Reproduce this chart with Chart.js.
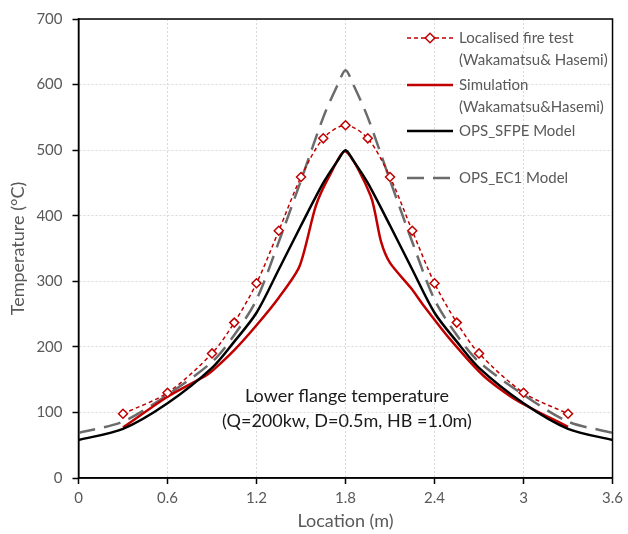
<!DOCTYPE html>
<html>
<head>
<meta charset="utf-8">
<script src="https://cdn.jsdelivr.net/npm/chart.js@4"></script>
<style>
  body { margin: 0; background: #fff; }
  #wrap { width: 628px; height: 534px; }
</style>
</head>
<body>
<div id="wrap"><canvas id="tempChart" width="628" height="534"></canvas></div>
<script>
// Localised fire test (Wakamatsu & Hasemi)
const xTest = [0.3, 0.6, 0.9, 1.05, 1.2, 1.35, 1.5, 1.65, 1.8, 1.95, 2.1, 2.25, 2.4, 2.55, 2.7, 3.0, 3.3];
const yTest = [98, 130, 190, 237, 297, 377, 459, 518, 538, 518, 459, 377, 297, 237, 190, 130, 98];

// Simulation (Wakamatsu & Hasemi)
const xSim = [0.3, 0.6, 0.85, 0.9, 1.05, 1.2, 1.35, 1.49, 1.6, 1.69, 1.8, 1.97, 2.04, 2.1, 2.24, 2.33, 2.5, 2.73, 2.95, 3.3];
const ySim = [77, 124, 155, 163, 195, 233, 275, 323, 415, 460, 498, 430, 360, 328, 290, 262, 213, 156, 119, 78];

// OPS models
const xModel = [0, 0.3, 0.6, 0.9, 1.05, 1.2, 1.35, 1.5, 1.65, 1.75, 1.8, 1.85, 1.95, 2.1, 2.25, 2.4, 2.55, 2.7, 3.0, 3.3, 3.6];
const ySFPE = [58, 75, 114, 168, 208, 252, 318, 385, 450, 485, 500, 485, 450, 385, 318, 252, 208, 168, 114, 75, 58];
const yEC1 = [69, 86, 127, 177, 218, 272, 360, 454, 550, 601, 622, 601, 550, 454, 360, 272, 218, 177, 127, 86, 69];

// axis ticks
const xTickValues = [0, 0.6, 1.2, 1.8, 2.4, 3, 3.6];
const yTickValues = [0, 100, 200, 300, 400, 500, 600, 700];

const legendLabels = [
  ['Localised fire test', '(Wakamatsu& Hasemi)'],
  ['Simulation', '(Wakamatsu&Hasemi)'],
  ['OPS_SFPE Model'],
  ['OPS_EC1 Model']
];
const noteLines = ['Lower flange temperature', '(Q=200kw, D=0.5m, HB =1.0m)'];

const RED = '#C00000';
const GREY = '#6b6b6b';
const TEXT = '#595959';
const FONT = 'Lato, "Open Sans", sans-serif';

function toPoints(xs, ys) {
  return xs.map((x, i) => ({ x: x, y: ys[i] }));
}

// legend + note + plot frame
const extrasPlugin = {
  id: 'extras',
  afterDraw(chart) {
    const ctx = chart.ctx;
    const area = chart.chartArea;
    ctx.save();

    // frame round the plot
    ctx.strokeStyle = '#000';
    ctx.lineWidth = 1.5;
    ctx.strokeRect(area.left, area.top, area.right - area.left, area.bottom - area.top);

    // legend
    const rows = [38, 85, 131, 178];
    const x0 = 407, x1 = 453, tx = 459;
    ctx.font = '15px ' + FONT;
    ctx.textBaseline = 'middle';
    ctx.textAlign = 'left';
    chart.data.datasets.forEach((ds, i) => {
      const y = rows[i];
      ctx.save();
      ctx.strokeStyle = ds.borderColor;
      ctx.lineWidth = ds.borderWidth;
      ctx.setLineDash(ds.borderDash || []);
      ctx.beginPath();
      ctx.moveTo(x0, y);
      ctx.lineTo(x1, y);
      ctx.stroke();
      ctx.restore();
      if (ds.pointRadius > 0) {
        ctx.save();
        ctx.translate((x0 + x1) / 2, y);
        ctx.rotate(Math.PI / 4);
        ctx.fillStyle = '#fff';
        ctx.strokeStyle = ds.pointBorderColor;
        ctx.lineWidth = ds.pointBorderWidth;
        const s = ds.pointRadius * 0.75;
        ctx.fillRect(-s, -s, 2 * s, 2 * s);
        ctx.strokeRect(-s, -s, 2 * s, 2 * s);
        ctx.restore();
      }
      ctx.fillStyle = TEXT;
      legendLabels[i].forEach((line, j) => {
        ctx.fillText(line, tx, y + j * 22);
      });
    });

    // note in the plot
    ctx.font = '18px ' + FONT;
    ctx.textAlign = 'center';
    ctx.fillStyle = '#1a1a1a';
    ctx.fillText(noteLines[0], 347, 396);
    ctx.fillText(noteLines[1], 347, 421);
    ctx.restore();
  }
};

const ctx = document.getElementById('tempChart');

new Chart(ctx, {
  type: 'scatter',
  data: {
    datasets: [
      {
        label: 'Localised fire test (Wakamatsu& Hasemi)',
        data: toPoints(xTest, yTest),
        showLine: true,
        borderColor: RED,
        borderWidth: 1.5,
        borderDash: [4, 3],
        tension: 0.3,
        pointStyle: 'rectRot',
        pointRadius: 4.5,
        pointBorderColor: RED,
        pointBackgroundColor: '#fff',
        pointBorderWidth: 1.5,
        order: 0
      },
      {
        label: 'Simulation (Wakamatsu&Hasemi)',
        data: toPoints(xSim, ySim),
        showLine: true,
        borderColor: RED,
        borderWidth: 2.5,
        tension: 0.25,
        pointRadius: 0,
        order: 2
      },
      {
        label: 'OPS_SFPE Model',
        data: toPoints(xModel, ySFPE),
        showLine: true,
        borderColor: '#000',
        borderWidth: 2.5,
        tension: 0.3,
        pointRadius: 0,
        order: 1
      },
      {
        label: 'OPS_EC1 Model',
        data: toPoints(xModel, yEC1),
        showLine: true,
        borderColor: GREY,
        borderWidth: 2.5,
        borderDash: [17, 9],
        tension: 0.3,
        pointRadius: 0,
        order: 3
      }
    ]
  },
  options: {
    responsive: false,
    animation: false,
    layout: { padding: { top: 10, right: 11, left: 0, bottom: 0 } },
    plugins: {
      legend: { display: false },
      tooltip: { enabled: false }
    },
    scales: {
      x: {
        type: 'linear',
        min: 0,
        max: 3.6,
        afterBuildTicks: function(scale) {
          scale.ticks = xTickValues.map(v => ({ value: v }));
        },
        afterFit: function(scale) {
          scale.height = 56;
        },
        grid: {
          color: '#d9d9d9',
          lineWidth: 1,
          tickLength: 6,
          tickColor: '#000',
          tickWidth: 1.5
        },
        border: { color: '#000', width: 1.5, dash: [2, 2] },
        ticks: {
          color: TEXT,
          padding: 5,
          font: { family: FONT, size: 15 },
          callback: function(v) { return String(Math.round(v * 10) / 10); }
        },
        title: {
          display: true,
          text: 'Location (m)',
          color: TEXT,
          font: { family: FONT, size: 18 },
          padding: { top: 0, bottom: 2 }
        }
      },
      y: {
        type: 'linear',
        min: 0,
        max: 700,
        afterBuildTicks: function(scale) {
          scale.ticks = yTickValues.map(v => ({ value: v }));
        },
        afterFit: function(scale) {
          scale.width = 78.5;
        },
        grid: {
          color: '#d9d9d9',
          lineWidth: 1,
          tickLength: 6,
          tickColor: '#000',
          tickWidth: 1.5
        },
        border: { color: '#000', width: 1.5, dash: [2, 2] },
        ticks: {
          color: TEXT,
          padding: 10,
          font: { family: FONT, size: 15 }
        },
        title: {
          display: true,
          text: 'Temperature (°C)',
          color: TEXT,
          font: { family: FONT, size: 18 },
          padding: { top: 7, bottom: 0 }
        }
      }
    }
  },
  plugins: [extrasPlugin]
});
</script>
</body>
</html>
